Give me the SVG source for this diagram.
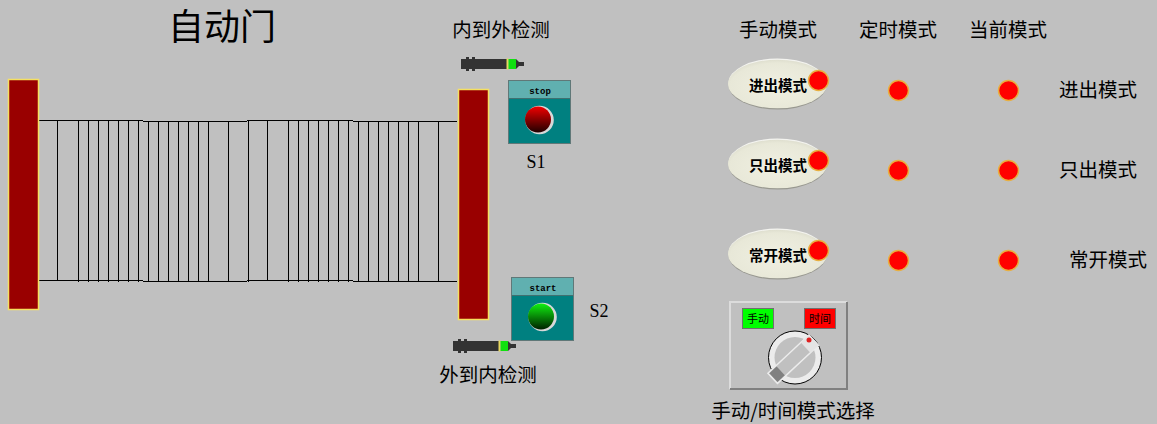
<svg xmlns="http://www.w3.org/2000/svg" width="1157" height="424" viewBox="0 0 1157 424">
<style>
text{font-family:"Noto Sans CJK SC","Liberation Sans",sans-serif;fill:#000}
.l{font-size:19.500px;text-anchor:middle;font-weight:400}
.b{font-size:14.500px;font-weight:700;text-anchor:middle}
.door{fill:#990000;stroke:#f5e060;stroke-width:1.5}
.f{stroke:#000;stroke-width:1;fill:none;shape-rendering:crispEdges}
.led{fill:#ff0000;stroke:#e8b040;stroke-width:1.5}
.bt{font-family:"Liberation Mono",monospace;font-size:9px;font-weight:700;text-anchor:middle}
.s{font-family:"Liberation Serif",serif;font-size:18px;text-anchor:middle}
</style>
<defs>
<radialGradient id="ov" cx="0.5" cy="0.55" r="0.6"><stop offset="0" stop-color="#f0f0e2"/><stop offset="0.8" stop-color="#e8e8d8"/><stop offset="1" stop-color="#d8d8c8"/></radialGradient>
<linearGradient id="rb" x1="0" y1="0" x2="0" y2="1"><stop offset="0" stop-color="#f00000"/><stop offset="1" stop-color="#200000"/></linearGradient>
<linearGradient id="gb" x1="0" y1="0" x2="0" y2="1"><stop offset="0" stop-color="#10f010"/><stop offset="1" stop-color="#002000"/></linearGradient>
<g id="sensor"><rect x="0" y="3" width="46" height="10" fill="#333"/><rect x="5" y="1" width="3" height="14" fill="#333"/><rect x="11" y="1" width="3" height="14" fill="#333"/><rect x="45.500" y="2.500" width="2" height="11" fill="#e8d860"/><rect x="47.500" y="3" width="7.500" height="10" fill="#10e010"/><path d="M55 3L58 6V10L55 13Z" fill="#333"/><rect x="57" y="6" width="6" height="4" fill="#333"/></g>
<g id="oval"><ellipse cx="0" cy="1" rx="49" ry="24.500" fill="#989890"/><ellipse cx="0" cy="-1" rx="49" ry="24.500" fill="#f4f4f0"/><ellipse cx="0" cy="0" rx="49.500" ry="24.300" fill="url(#ov)"/></g>
</defs>
<rect width="1157" height="424" fill="#c0c0c0"/>
<g id="connectors">
<path class="f" d="M39 120.500H143M143 121.500H247M247 120.500H353M353 121.500H457M39 280.500H143M143 281.500H247M247 280.500H353M353 281.500H457"/>
<path class="f" d="M57.500 120V281M78.500 120V282M88.500 120V282M98.500 120V282M108.500 120V282M118.500 120V282M128.500 120V282M138.500 120V282M148.500 121V282M158.500 121V282M168.500 121V282M178.500 121V282M188.500 121V282M198.500 121V282M208.500 121V282M228.500 121V282M248.500 120V282M267.500 120V281M288.500 120V282M298.500 120V282M308.500 120V282M318.500 120V282M328.500 120V282M338.500 120V282M348.500 120V282M358.500 121V282M368.500 121V282M378.500 121V282M388.500 121V282M398.500 121V282M408.500 121V282M418.500 121V282M438.500 121V282"/>
</g>
<g id="title"><text x="222" y="40" font-size="36" text-anchor="middle" font-weight="400">自动门</text></g>
<g id="door-left"><rect class="door" x="8.500" y="79.500" width="30" height="230"/></g>
<g id="door-right"><rect class="door" x="458.500" y="89.500" width="30" height="230"/></g>
<g id="sensor-top"><use href="#sensor" x="461" y="56"/><text class="l" x="501" y="37">内到外检测</text></g>
<g id="sensor-bottom"><use href="#sensor" x="453" y="338"/><text class="l" x="488" y="382">外到内检测</text></g>
<g id="s1">
<rect x="508.500" y="80.500" width="62" height="63" fill="#008080" stroke="#607878"/>
<rect x="509" y="81" width="61" height="18" fill="#60b0b0"/>
<path d="M509 98.500H570" stroke="#407070"/>
<text class="bt" x="540" y="94">stop</text>
<circle cx="539.500" cy="120" r="14.300" fill="#d8d8d8"/>
<circle cx="538" cy="119.500" r="13" fill="url(#rb)"/>
<text class="s" x="536" y="168">S1</text>
</g>
<g id="s2">
<rect x="511.500" y="277.500" width="62" height="63" fill="#008080" stroke="#607878"/>
<rect x="512" y="278" width="61" height="18" fill="#60b0b0"/>
<path d="M512 295.500H573" stroke="#407070"/>
<text class="bt" x="543" y="291">start</text>
<circle cx="542.500" cy="317" r="14.300" fill="#d8d8d8"/>
<circle cx="541" cy="316.500" r="13" fill="url(#gb)"/>
<text class="s" x="599" y="317">S2</text>
</g>
<g id="headers"><text class="l" x="778" y="37">手动模式</text><text class="l" x="898" y="37">定时模式</text><text class="l" x="1008" y="37">当前模式</text></g>
<g id="btn-inout"><use href="#oval" x="777.500" y="84"/><text class="b" x="778" y="91">进出模式</text><circle class="led" cx="818.500" cy="80.500" r="10"/></g>
<g id="btn-out"><use href="#oval" x="777.500" y="164"/><text class="b" x="778" y="171">只出模式</text><circle class="led" cx="818.500" cy="160.500" r="10"/></g>
<g id="btn-open"><use href="#oval" x="777.500" y="254"/><text class="b" x="778" y="261">常开模式</text><circle class="led" cx="818.500" cy="250.500" r="10"/></g>
<g id="leds">
<circle class="led" cx="898.500" cy="90.500" r="10"/><circle class="led" cx="1008.500" cy="90.500" r="10"/>
<circle class="led" cx="898.500" cy="170.500" r="10"/><circle class="led" cx="1008.500" cy="170.500" r="10"/>
<circle class="led" cx="898.500" cy="260.500" r="10"/><circle class="led" cx="1008.500" cy="260.500" r="10"/>
</g>
<g id="labels"><text class="l" x="1098" y="97">进出模式</text><text class="l" x="1098" y="177">只出模式</text><text class="l" x="1108" y="267">常开模式</text></g>
<g id="selector">
<rect x="730" y="302" width="117" height="87" fill="#c0c0c0"/>
<path d="M730 389V302H847" fill="none" stroke="#dcdcdc" stroke-width="2"/>
<path d="M847 302V389H730" fill="none" stroke="#808080" stroke-width="2"/>
<rect x="742.500" y="308.500" width="31" height="20" fill="#00ff00" stroke="#707070"/>
<text x="758" y="323" font-size="11" text-anchor="middle">手动</text>
<rect x="804.500" y="308.500" width="31" height="20" fill="#ff0000" stroke="#707070"/>
<text x="820" y="323" font-size="11" text-anchor="middle">时间</text>
<circle cx="795" cy="357.500" r="26.500" fill="#ececec" stroke="#000" stroke-width="1"/>
<circle cx="795" cy="357.500" r="20.500" fill="#c0c0c0"/>
<g transform="rotate(47 795 357.500)">
<rect x="788" y="332" width="14" height="56" fill="#c0c0c0" stroke="#ececec" stroke-width="1.500"/>
<rect x="788" y="332" width="14" height="11" fill="#e4e4e4"/>
<rect x="789" y="377" width="12" height="10" fill="#808080"/>
</g>
<circle cx="809" cy="340" r="2.500" fill="#e02020"/>
</g>
<g id="selector-label"><text class="l" x="793" y="418">手动/时间模式选择</text></g>
</svg>
